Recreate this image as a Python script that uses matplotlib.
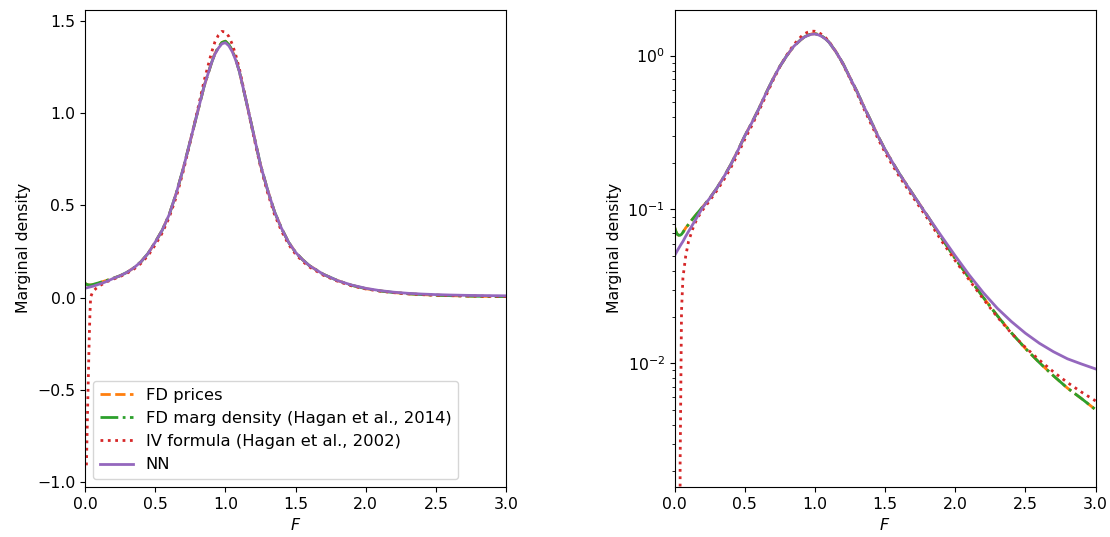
import matplotlib
matplotlib.use("Agg")
import matplotlib.pyplot as plt

plt.rcParams['font.size'] = 11.3

# F grid for FD and NN curves
f = [0.0, 0.01, 0.02, 0.03, 0.04, 0.05, 0.06, 0.08, 0.1, 0.13, 0.16, 0.2, 0.25, 0.3,
     0.35, 0.4, 0.45, 0.5, 0.55, 0.6, 0.65, 0.7, 0.75, 0.8, 0.85, 0.9, 0.925, 0.95,
     0.975, 1.0, 1.025, 1.05, 1.075, 1.1, 1.15, 1.2, 1.25, 1.3, 1.35, 1.4, 1.45, 1.5,
     1.55, 1.6, 1.7, 1.8, 1.9, 2.0, 2.1, 2.2, 2.3, 2.4, 2.5, 2.6, 2.7, 2.8, 2.9, 3.0]

nn = [0.050, 0.052, 0.054, 0.056, 0.058, 0.060, 0.062, 0.067, 0.072, 0.080, 0.089,
      0.103, 0.118, 0.137, 0.162, 0.195, 0.24, 0.30, 0.365, 0.45, 0.565, 0.70, 0.85,
      1.0, 1.15, 1.27, 1.32, 1.352, 1.376, 1.382, 1.365, 1.332, 1.285, 1.225, 1.06,
      0.89, 0.72, 0.585, 0.465, 0.375, 0.30, 0.245, 0.205, 0.172, 0.125, 0.0915,
      0.0675, 0.050, 0.0375, 0.0288, 0.0228, 0.0187, 0.0157, 0.0135, 0.0119, 0.0107,
      0.0099, 0.0092]

fd_prices = [0.077, 0.072, 0.069, 0.068, 0.068, 0.069, 0.071, 0.076, 0.080, 0.087,
             0.094, 0.104, 0.118, 0.137, 0.162, 0.195, 0.24, 0.30, 0.365, 0.45, 0.565,
             0.70, 0.85, 1.0, 1.15, 1.27, 1.322, 1.357, 1.383, 1.39, 1.372, 1.338,
             1.29, 1.225, 1.06, 0.89, 0.72, 0.585, 0.465, 0.375, 0.30, 0.245, 0.205,
             0.172, 0.125, 0.0915, 0.066, 0.048, 0.0358, 0.0268, 0.0204, 0.0158,
             0.0125, 0.0101, 0.0083, 0.0069, 0.0059, 0.0050]

fd_marg = [0.077, 0.072, 0.069, 0.068, 0.068, 0.069, 0.071, 0.076, 0.080, 0.087,
           0.094, 0.104, 0.118, 0.137, 0.162, 0.195, 0.24, 0.30, 0.365, 0.45, 0.565,
           0.70, 0.85, 1.0, 1.15, 1.27, 1.322, 1.357, 1.383, 1.39, 1.372, 1.338,
           1.29, 1.225, 1.06, 0.89, 0.72, 0.585, 0.465, 0.375, 0.30, 0.245, 0.205,
           0.172, 0.125, 0.0915, 0.066, 0.048, 0.0358, 0.0268, 0.0204, 0.0158,
           0.0125, 0.0101, 0.0083, 0.0069, 0.0059, 0.0050]

# IV formula curve (own grid, goes negative near F=0)
f_iv = [0.01, 0.02, 0.03, 0.035, 0.04, 0.05, 0.06, 0.08, 0.1, 0.13, 0.16, 0.2, 0.25,
        0.3, 0.35, 0.4, 0.45, 0.5, 0.55, 0.6, 0.65, 0.7, 0.75, 0.8, 0.85, 0.9, 0.925,
        0.95, 0.975, 1.0, 1.025, 1.05, 1.075, 1.1, 1.15, 1.2, 1.25, 1.3, 1.35, 1.4,
        1.45, 1.5, 1.55, 1.6, 1.7, 1.8, 1.9, 2.0, 2.1, 2.2, 2.3, 2.4, 2.5, 2.6, 2.7,
        2.8, 2.9, 3.0]

iv = [-0.91, -0.55, -0.22, -0.09, 0.0022, 0.022, 0.036, 0.050, 0.062, 0.075, 0.087,
      0.099, 0.114, 0.132, 0.155, 0.186, 0.228, 0.285, 0.35, 0.435, 0.545, 0.685,
      0.845, 1.01, 1.18, 1.325, 1.385, 1.422, 1.443, 1.44, 1.415, 1.372, 1.312, 1.24,
      1.06, 0.88, 0.71, 0.57, 0.45, 0.36, 0.288, 0.235, 0.196, 0.165, 0.12, 0.088,
      0.063, 0.0465, 0.0348, 0.0262, 0.0200, 0.0157, 0.0127, 0.0105, 0.0088,
      0.0075, 0.0065, 0.0057]

fig, axes = plt.subplots(1, 2, figsize=(11.1, 5.37), dpi=100)
plt.subplots_adjust(left=0.0766, right=0.987, bottom=0.093, top=0.982, wspace=0.40)

for ax in axes:
    ax.plot(f, fd_prices, color='tab:orange', linestyle='--', linewidth=2, label='FD prices')
    ax.plot(f, fd_marg, color='tab:green', linestyle='-.', linewidth=2,
            label='FD marg density (Hagan et al., 2014)')
    ax.plot(f_iv, iv, color='tab:red', linestyle=':', linewidth=2,
            label='IV formula (Hagan et al., 2002)')
    ax.plot(f, nn, color='tab:purple', linestyle='-', linewidth=2, label='NN')
    ax.set_xlim(0, 3)
    ax.set_xlabel('$F$')
    ax.set_ylabel('Marginal density')

axes[0].set_ylim(-1.028, 1.561)
axes[0].legend(loc='lower left', fontsize=11.8)

axes[1].set_yscale('log')
axes[1].set_ylim(0.00157, 1.99)

plt.savefig('out.png')
